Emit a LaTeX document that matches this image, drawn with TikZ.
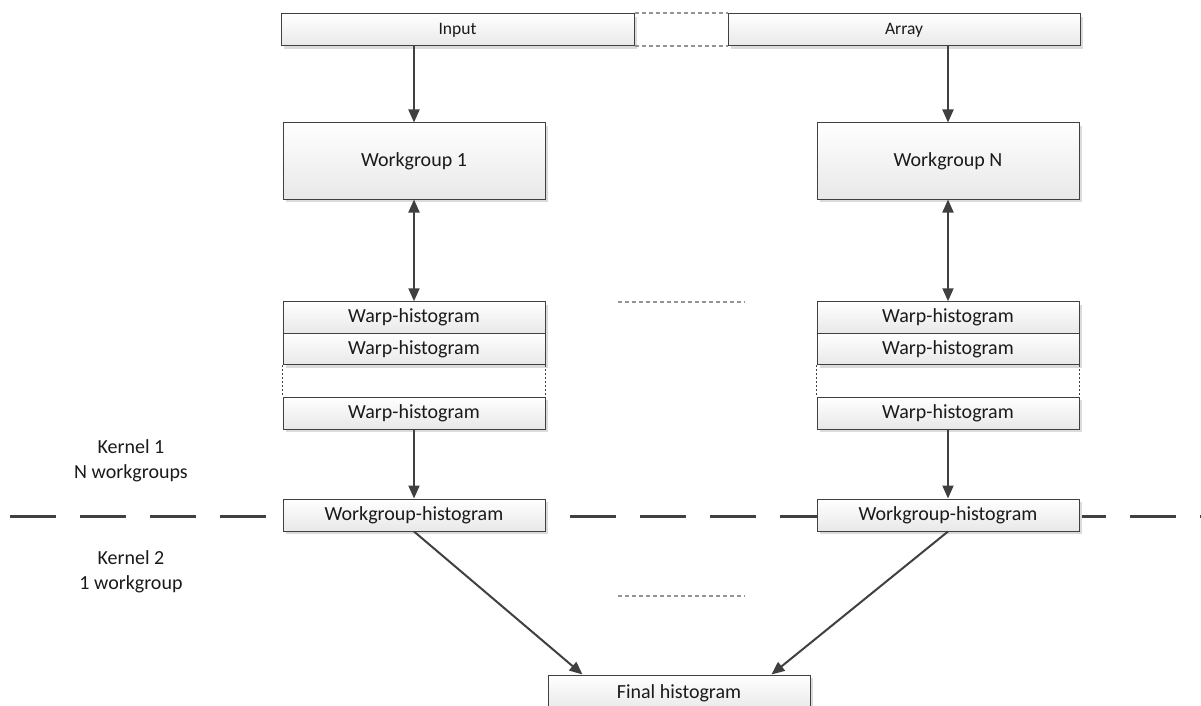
\documentclass[tikz,border=0pt]{standalone}
\usepackage{fontspec}
\setmainfont{Carlito}
\usetikzlibrary{arrows.meta,shadows,calc}
\definecolor{ink}{HTML}{404040}
\definecolor{txt}{HTML}{1A1A1A}
\tikzset{
  box/.style={draw=ink, line width=1pt, top color=white, bottom color=black!9,
    drop shadow={shadow xshift=3pt, shadow yshift=-3pt, fill=black!14, opacity=1},
    inner sep=0pt, text=txt, font=\fontsize{20}{24}\selectfont},
  smallbox/.style={box, font=\fontsize{17.5}{21}\selectfont},
  arr/.style={draw=ink, line width=2pt, -{Triangle[length=13pt,width=11pt]}},
  biarr/.style={draw=ink, line width=2pt, {Triangle[length=13pt,width=11pt]}-{Triangle[length=13pt,width=11pt]}},
  sepline/.style={draw=ink, line width=3pt, dash pattern=on 46pt off 24pt},
  gapline/.style={draw=black!42, line width=2pt, dash pattern=on 4pt off 3pt},
  sideline/.style={draw=ink, line width=1.6pt, dash pattern=on 2pt off 2pt},
  label/.style={text=txt, align=center, font=\fontsize{20}{24.5}\selectfont},
}
\begin{document}
\begin{tikzpicture}[x=1pt, y=-1pt]
\clip (0,0) rectangle (1201,706);

% kernel boundary
\coordinate (sepL) at (10,516);
\coordinate (sepR) at (1201,516);
\draw[sepline] (sepL) -- (sepR);

% input array
\node[smallbox, minimum width=353pt, minimum height=32pt] (in) at (457.5,30) {Input};
\node[smallbox, minimum width=352pt, minimum height=32pt] (ar) at (904,30) {Array};
\draw[gapline] (in.north east) -- (ar.north west);
\draw[gapline] (in.south east) -- (ar.south west);

% workgroups
\node[box, minimum width=262pt, minimum height=76pt] (wg1) at (414,161) {Workgroup 1};
\node[box, minimum width=262pt, minimum height=76pt] (wgN) at (948,161) {Workgroup N};

% warp histograms, left
\node[box, minimum width=262pt, minimum height=31.5pt] (l1) at (414,317.5) {Warp-histogram};
\node[box, minimum width=262pt, minimum height=31.5pt] (l2) at (414,349) {Warp-histogram};
\node[box, minimum width=262pt, minimum height=32pt] (l3) at (414,413) {Warp-histogram};
\draw[sideline] (l2.south west) -- (l3.north west);
\draw[sideline] (l2.south east) -- (l3.north east);

% warp histograms, right
\node[box, minimum width=262pt, minimum height=31.5pt] (r1) at (948,317.5) {Warp-histogram};
\node[box, minimum width=262pt, minimum height=31.5pt] (r2) at (948,349) {Warp-histogram};
\node[box, minimum width=262pt, minimum height=32pt] (r3) at (948,413) {Warp-histogram};
\draw[sideline] (r2.south west) -- (r3.north west);
\draw[sideline] (r2.south east) -- (r3.north east);

% workgroup histograms
\node[box, minimum width=262pt, minimum height=32pt] (wh1) at (414,515) {Workgroup-histogram};
\node[box, minimum width=262pt, minimum height=32pt] (whN) at (948,515) {Workgroup-histogram};

% final result
\node[box, minimum width=262pt, minimum height=36pt] (fin) at (679,693) {Final histogram};
\coordinate (finA) at ([xshift=35pt]fin.north west);
\coordinate (finB) at ([xshift=-39pt]fin.north east);

% ellipsis markers
\coordinate (e1a) at (618,302); \coordinate (e1b) at (745,302);
\coordinate (e2a) at (618,596); \coordinate (e2b) at (745,596);
\draw[gapline] (e1a) -- (e1b);
\draw[gapline] (e2a) -- (e2b);

% connectors
\draw[arr] (in.south -| wg1.north) -- (wg1.north);
\draw[arr] (ar.south -| wgN.north) -- (wgN.north);
\draw[biarr] (wg1.south) -- (l1.north);
\draw[biarr] (wgN.south) -- (r1.north);
\draw[arr] (l3.south) -- (wh1.north);
\draw[arr] (r3.south) -- (whN.north);
\draw[arr] (wh1.south) -- (finA);
\draw[arr] (whN.south) -- (finB);

% kernel labels
\node[label] (k1) at (131,461) {Kernel 1\\N workgroups};
\node[label] (k2) at (131,572) {Kernel 2\\1 workgroup};
\end{tikzpicture}
\end{document}
